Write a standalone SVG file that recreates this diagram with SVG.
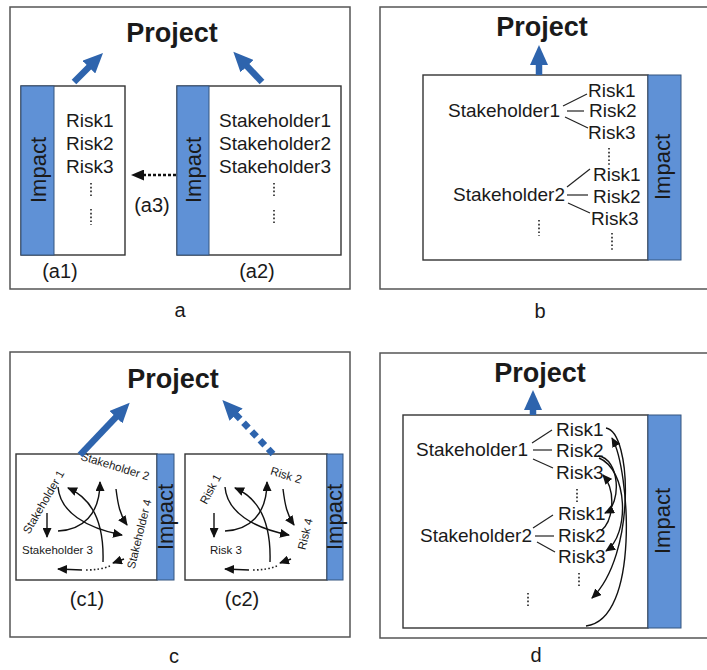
<svg xmlns="http://www.w3.org/2000/svg" width="707" height="670" viewBox="0 0 707 670">
<style>
text{font-family:"Liberation Sans",Arial,sans-serif;fill:#1a1a1a}
.frame{fill:none;stroke:#555;stroke-width:1.5}
.box{fill:#fff;stroke:#333;stroke-width:1.4}
.bar{fill:#5f91d6;stroke:#34557f;stroke-width:1}
.title{font-size:27px;font-weight:bold;text-anchor:middle}
.lbl{font-size:20px;text-anchor:middle}
.t19{font-size:19px}
.t11{font-size:11.5px}
.imp{font-size:22px;text-anchor:middle}
.blue{stroke:#2e64ad;stroke-width:6.5;fill:none;marker-end:url(#bh)}
.bk{stroke:#111;stroke-width:1.4;fill:none;marker-end:url(#kh)}
.dots{stroke:#222;stroke-width:1.6;stroke-dasharray:1.6 2.2;fill:none}
.ln{stroke:#222;stroke-width:1.2;fill:none}
</style>
<defs>
<marker id="bh" markerUnits="userSpaceOnUse" markerWidth="20" markerHeight="18" refX="3" refY="9" orient="auto"><path d="M0,0 L20,9 L0,18 Z" fill="#2e64ad"/></marker>
<marker id="kh" markerUnits="userSpaceOnUse" markerWidth="10" markerHeight="9" refX="9" refY="4.5" orient="auto"><path d="M0,0 L10,4.5 L0,9 Z" fill="#111"/></marker>
<marker id="mh" markerUnits="userSpaceOnUse" markerWidth="13" markerHeight="11" refX="3" refY="5.5" orient="auto"><path d="M0,0 L13,5.5 L0,11 Z" fill="#111"/></marker>
</defs>

<!-- frames -->
<rect class="frame" x="10" y="7" width="340" height="282"/>
<rect class="frame" x="380" y="7" width="330" height="282"/>
<rect class="frame" x="10" y="352" width="340" height="285"/>
<rect class="frame" x="380" y="353" width="330" height="285"/>

<!-- panel a -->
<g id="a-title"><text class="title" x="172" y="42">Project</text></g>
<g id="a1">
<rect class="box" x="21" y="86" width="104" height="169"/>
<rect class="bar" x="21" y="86" width="33" height="169"/>
<text class="imp" transform="translate(46,170) rotate(-90)">Impact</text>
<text class="t19" x="66" y="127">Risk1</text>
<text class="t19" x="66" y="150">Risk2</text>
<text class="t19" x="66" y="173">Risk3</text>
<line class="dots" x1="91" y1="183" x2="91" y2="198"/>
<line class="dots" x1="91" y1="209" x2="91" y2="225"/>
<text class="lbl" x="60" y="278">(a1)</text>
</g>
<g id="a2">
<rect class="box" x="177" y="86" width="164" height="169"/>
<rect class="bar" x="177" y="86" width="32" height="169"/>
<text class="imp" transform="translate(201,170) rotate(-90)">Impact</text>
<text class="t19" x="219" y="127">Stakeholder1</text>
<text class="t19" x="219" y="150">Stakeholder2</text>
<text class="t19" x="219" y="173">Stakeholder3</text>
<line class="dots" x1="274" y1="183" x2="274" y2="198"/>
<line class="dots" x1="274" y1="210" x2="274" y2="225"/>
<text class="lbl" x="257" y="278">(a2)</text>
</g>
<g id="a3"><text class="lbl" x="152" y="212">(a3)</text></g>
<g id="a-label"><text class="lbl" x="180" y="317">a</text></g>

<!-- panel b -->
<g id="b-title"><text class="title" x="542" y="36">Project</text></g>
<g id="b-box">
<rect class="box" x="423" y="75" width="225" height="185"/>
<rect class="bar" x="648" y="75" width="33" height="185"/>
<text class="imp" transform="translate(670,167) rotate(-90)">Impact</text>
<text class="t19" x="448" y="117">Stakeholder1</text>
<text class="t19" x="588" y="97">Risk1</text>
<text class="t19" x="589" y="117">Risk2</text>
<text class="t19" x="588" y="139">Risk3</text>
<line class="dots" x1="609" y1="148" x2="609" y2="166"/>
<text class="t19" x="453" y="201">Stakeholder2</text>
<text class="t19" x="593" y="181">Risk1</text>
<text class="t19" x="593" y="203">Risk2</text>
<text class="t19" x="591" y="225">Risk3</text>
<line class="dots" x1="539" y1="220" x2="539" y2="236"/>
<line class="dots" x1="612" y1="233" x2="612" y2="250"/>
</g>
<g id="b-label"><text class="lbl" x="540" y="318">b</text></g>

<!-- panel c -->
<g id="c-title"><text class="title" x="173" y="388">Project</text></g>
<g id="c1">
<rect class="box" x="16" y="454" width="141" height="126"/>
<rect class="bar" x="157" y="454" width="17" height="126"/>
<text class="imp" transform="translate(173,517) rotate(-90)">Impact</text>
<text class="t11" text-anchor="middle" transform="translate(47,504) rotate(-60)">Stakeholder 1</text>
<text class="t11" text-anchor="middle" transform="translate(114,470) rotate(17)">Stakeholder 2</text>
<text class="t11" text-anchor="middle" transform="translate(143,535) rotate(-76)">Stakeholder 4</text>
<text class="t11" x="22" y="554">Stakeholder 3</text>
<text class="lbl" x="87" y="606">(c1)</text>
</g>
<g id="c2">
<rect class="box" x="185" y="454" width="142" height="126"/>
<rect class="bar" x="327" y="454" width="16" height="126"/>
<text class="imp" transform="translate(342,517) rotate(-90)">Impact</text>
<text class="t11" text-anchor="middle" transform="translate(214,491) rotate(-62)">Risk 1</text>
<text class="t11" text-anchor="middle" transform="translate(285,479) rotate(17)">Risk 2</text>
<text class="t11" text-anchor="middle" transform="translate(309,535) rotate(-76)">Risk 4</text>
<text class="t11" x="210" y="554">Risk 3</text>
<text class="lbl" x="242" y="606">(c2)</text>
</g>
<g id="c-label"><text class="lbl" x="174" y="663">c</text></g>

<!-- panel d -->
<g id="d-title"><text class="title" x="540" y="382">Project</text></g>
<g id="d-box">
<rect class="box" x="403" y="415" width="245" height="213"/>
<rect class="bar" x="648" y="415" width="33" height="213"/>
<text class="imp" transform="translate(670,521) rotate(-90)">Impact</text>
<text class="t19" x="416" y="456">Stakeholder1</text>
<text class="t19" x="556" y="436">Risk1</text>
<text class="t19" x="556" y="457">Risk2</text>
<text class="t19" x="556" y="479">Risk3</text>
<line class="dots" x1="577" y1="489" x2="577" y2="504"/>
<text class="t19" x="420" y="542">Stakeholder2</text>
<text class="t19" x="558" y="520">Risk1</text>
<text class="t19" x="558" y="542">Risk2</text>
<text class="t19" x="558" y="563">Risk3</text>
<line class="dots" x1="579" y1="573" x2="579" y2="588"/>
<line class="dots" x1="528" y1="593" x2="528" y2="608"/>
</g>
<g id="d-label"><text class="lbl" x="536" y="662">d</text></g>

<!-- connectors -->
<g id="connectors">
<!-- a -->
<line class="blue" x1="74" y1="82" x2="91" y2="65"/>
<line class="blue" x1="262" y1="82" x2="245" y2="64"/>
<line x1="176" y1="175" x2="141" y2="175" stroke="#111" stroke-width="2.6" stroke-dasharray="3 2" marker-end="url(#mh)"/>
<!-- b -->
<line class="blue" x1="539" y1="75" x2="539" y2="62"/>
<line class="ln" x1="563" y1="106" x2="587" y2="94"/>
<line class="ln" x1="567" y1="111" x2="584" y2="111"/>
<line class="ln" x1="565" y1="117" x2="588" y2="128"/>
<line class="ln" x1="567" y1="187" x2="590" y2="169"/>
<line class="ln" x1="567" y1="195" x2="588" y2="195"/>
<line class="ln" x1="568" y1="203" x2="590" y2="213"/>
<!-- c -->
<line class="blue" x1="80" y1="455" x2="118" y2="415"/>
<line x1="273" y1="454" x2="234" y2="412.5" stroke="#2e64ad" stroke-width="6.5" stroke-dasharray="7 5" marker-end="url(#bh)"/>
<g id="c1-arrows">
<path class="bk" d="M47,513 L47,537"/>
<path class="bk" d="M58,487 C60,512 86,528 122,535"/>
<path class="bk" d="M58,531 C82,530 100,515 100,482"/>
<path class="bk" d="M103,562 C104,530 96,500 68,488"/>
<path class="bk" d="M116,489 C118,505 120,515 127,525"/>
<path class="bk" d="M82,570 L58,569"/>
<path class="dots" d="M86,570 Q100,570 110,566"/>
<path class="bk" d="M124,559 L113,563"/>
</g>
<use href="#c1-arrows" transform="translate(167,0)"/>
<!-- d -->
<line class="blue" x1="533" y1="415" x2="533" y2="407"/>
<line class="ln" x1="532" y1="443" x2="552" y2="430"/>
<line class="ln" x1="533" y1="450" x2="552" y2="450"/>
<line class="ln" x1="533" y1="459" x2="553" y2="468"/>
<line class="ln" x1="533" y1="528" x2="553" y2="515"/>
<line class="ln" x1="535" y1="536" x2="554" y2="536"/>
<line class="ln" x1="537" y1="542" x2="555" y2="552"/>
<path class="bk" d="M606,428 C632,432 636,555 592,598"/>
<path class="bk" d="M586,626 C640,620 630,470 612,438"/>
<path class="bk" d="M598,456 C620,458 622,505 605,513"/>
<path class="bk" d="M601,531 C614,520 616,490 603,475"/>
<path class="bk" d="M599,458 C628,470 630,535 606,551"/>
</g>
</svg>
